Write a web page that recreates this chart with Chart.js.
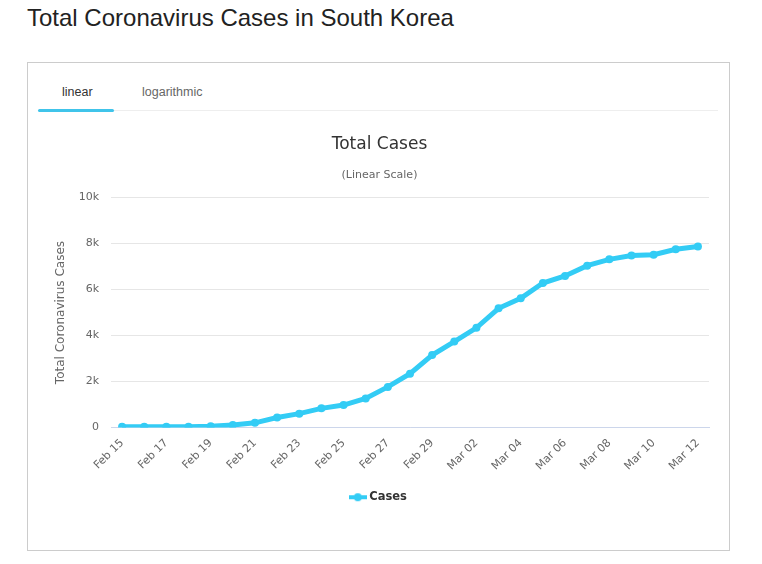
<!DOCTYPE html>
<html>
<head>
<meta charset="utf-8">
<script src="https://cdn.jsdelivr.net/npm/chart.js@4/dist/chart.umd.min.js"></script>
<style>
  body { margin: 0; background: #fff; width: 762px; height: 564px; position: relative; overflow: hidden; }
  h1 { position: absolute; left: 27px; top: 4px; margin: 0; font: 24px "Liberation Sans", Arial, sans-serif; color: #222; }
  .box { position: absolute; left: 27px; top: 62px; width: 701px; height: 487px; border: 1px solid #ccc; }
  .tabs { position: absolute; left: 10px; top: 0; width: 680px; height: 47px; border-bottom: 1px solid #eee; }
  .tab { position: absolute; top: 22px; font: 12.5px "Liberation Sans", Arial, sans-serif; color: #666; }
  .tab.active { color: #333; }
  .bar { position: absolute; left: 0; top: 46px; width: 76px; height: 3px; background: #40c4ea; border-radius: 2px; }
  #chart { position: absolute; left: 0; top: 52px; }
</style>
</head>
<body>
<h1>Total Coronavirus Cases in South Korea</h1>
<div class="box">
  <div class="tabs">
    <span class="tab active" style="left:24px">linear</span>
    <span class="tab" style="left:104px">logarithmic</span>
    <div class="bar"></div>
  </div>
  <canvas id="chart" width="701" height="430"></canvas>
</div>
<script>
const days = [
  "Feb 15","Feb 16","Feb 17","Feb 18","Feb 19","Feb 20","Feb 21","Feb 22","Feb 23",
  "Feb 24","Feb 25","Feb 26","Feb 27","Feb 28","Feb 29","Mar 01","Mar 02","Mar 03",
  "Mar 04","Mar 05","Mar 06","Mar 07","Mar 08","Mar 09","Mar 10","Mar 11","Mar 12"
];
const cases = [
  28, 29, 30, 31, 51, 104, 204, 433, 602,
  833, 977, 1261, 1766, 2337, 3150, 3736, 4335, 5186,
  5621, 6284, 6593, 7041, 7313, 7478, 7513, 7755, 7869
];
const yTicks = [0, 2000, 4000, 6000, 8000, 10000];
const yTickLabels = ["0", "2k", "4k", "6k", "8k", "10k"];

const lineColor = "#33ccf5";
const font = "'DejaVu Sans', Verdana, sans-serif";

// legend symbol: short line with a dot, like the original
function legendSymbol(){
  const c = document.createElement("canvas");
  c.width = 18; c.height = 10;
  const g = c.getContext("2d");
  g.strokeStyle = lineColor; g.lineWidth = 4;
  g.beginPath(); g.moveTo(0, 5); g.lineTo(18, 5); g.stroke();
  g.fillStyle = lineColor;
  g.beginPath(); g.arc(9, 5, 4, 0, Math.PI * 2); g.fill();
  return c;
}

new Chart(document.getElementById("chart"), {
  type: "line",
  data: {
    labels: days,
    datasets: [{
      label: "Cases",
      data: cases,
      borderColor: lineColor,
      backgroundColor: lineColor,
      borderWidth: 5,
      pointRadius: 4,
      pointBorderWidth: 0,
      pointHoverRadius: 5,
      tension: 0
    }]
  },
  options: {
    responsive: false,
    animation: false,
    layout: { padding: { left: 22, right: 20, top: 0, bottom: 32 } },
    plugins: {
      title: {
        display: true, text: "Total Cases", color: "#333",
        font: { family: font, size: 17, weight: "normal" },
        padding: { top: 19, bottom: 6 }
      },
      subtitle: {
        display: true, text: "(Linear Scale)", color: "#666",
        font: { family: font, size: 11 },
        padding: { top: 8, bottom: 16 }
      },
      legend: {
        position: "bottom",
        labels: {
          color: "#333",
          font: { family: font, size: 11.5, weight: "bold" },
          usePointStyle: true,
          padding: 10,
          generateLabels: (chart) => [{
            text: "Cases", pointStyle: legendSymbol(), hidden: false, datasetIndex: 0,
            fontColor: "#333", lineWidth: 0
          }]
        }
      },
      tooltip: { enabled: false }
    },
    scales: {
      x: {
        offset: true,
        grid: { display: false, drawTicks: true, tickLength: 6, color: "#ccd6eb" },
        border: { color: "#ccd6eb" },
        ticks: {
          autoSkip: false, minRotation: 45, maxRotation: 45, color: "#666",
          font: { family: font, size: 11 },
          callback: (v, i) => i % 2 === 0 ? days[i] : ""
        },
        afterFit: (s) => { s.height = 54; }
      },
      y: {
        min: 0, max: 10000,
        afterBuildTicks: (s) => { s.ticks = yTicks.map(v => ({ value: v })); },
        grid: { color: "#e6e6e6", drawTicks: false },
        border: { display: false },
        ticks: {
          color: "#666", padding: 12,
          font: { family: font, size: 11 },
          callback: (v) => yTickLabels[yTicks.indexOf(v)]
        },
        title: {
          display: true, text: "Total Coronavirus Cases", color: "#666",
          font: { family: font, size: 12 }
        },
        afterFit: (s) => { s.width = 61; }
      }
    }
  }
});
</script>
</body>
</html>
